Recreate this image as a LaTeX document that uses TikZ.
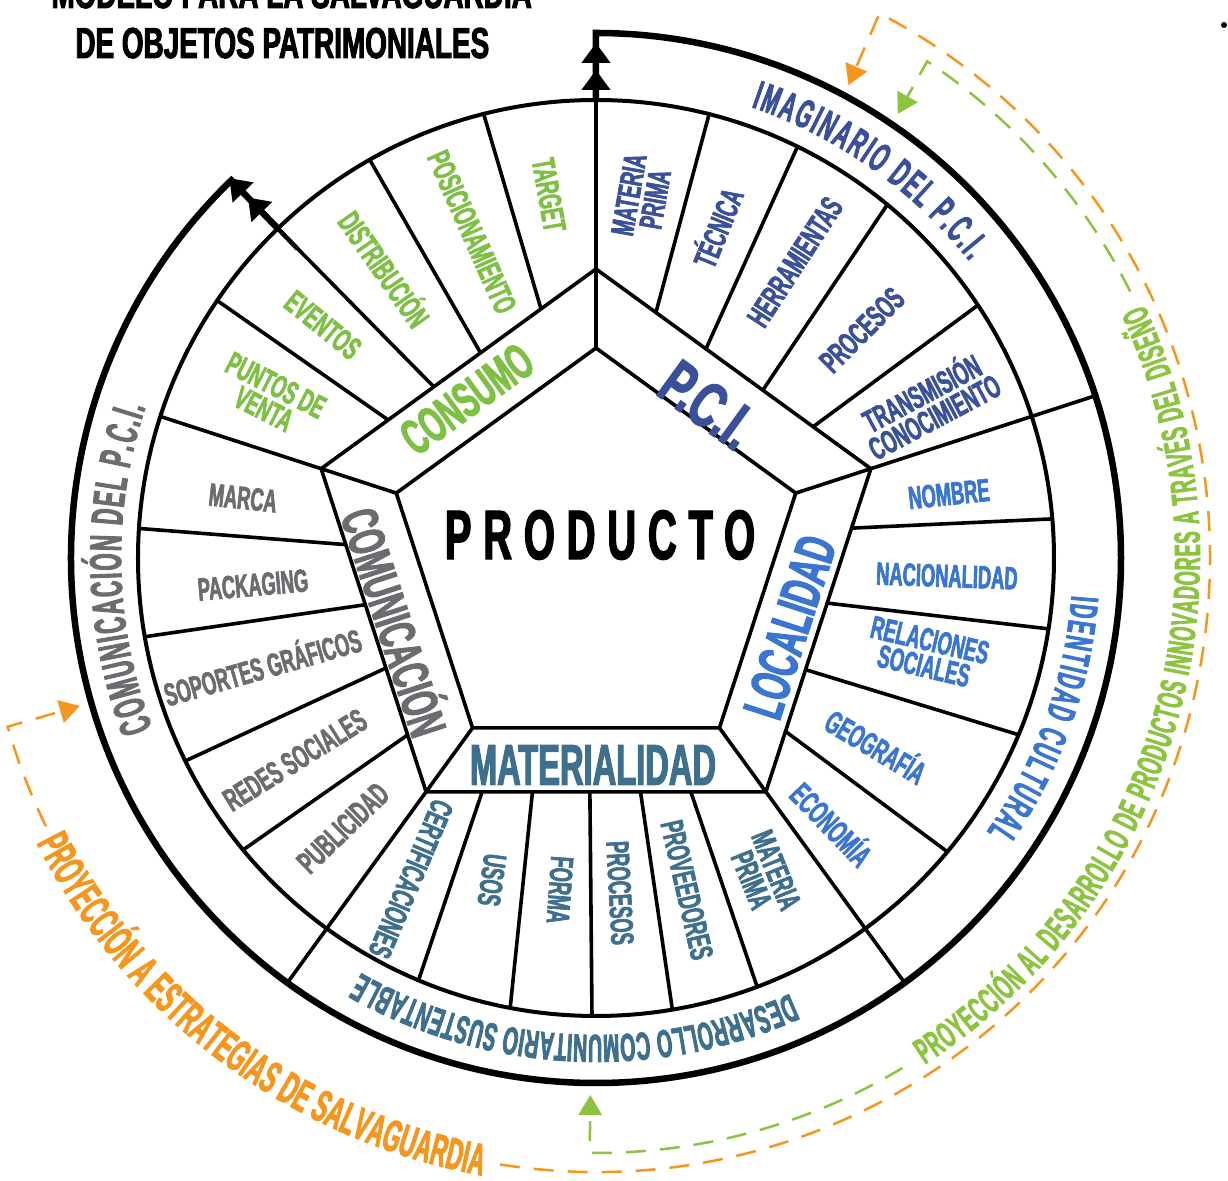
\documentclass[tikz,border=0pt]{standalone}
\usepackage{fontspec}
\newfontfamily\bebas[FakeStretch=0.57,FakeBold=2]{Liberation Sans}
\newfontfamily\bebasetroite[FakeStretch=0.5,FakeBold=2]{Liberation Sans}
\newfontfamily\bebasancha[FakeStretch=0.57,FakeBold=2,LetterSpace=17]{Liberation Sans}
\usetikzlibrary{arrows.meta, calc, decorations.text}

\definecolor{consumo}{RGB}{125,192,68}
\definecolor{pci}{RGB}{58,80,152}
\definecolor{localidad}{RGB}{58,118,208}
\definecolor{materia}{RGB}{62,112,142}
\definecolor{comunica}{RGB}{108,108,112}
\definecolor{naranja}{RGB}{245,150,30}
\definecolor{verde}{RGB}{140,196,66}

% taille donnee par la hauteur des capitales (en px)
\newcommand\capsz[1]{\fontsize{\fpeval{#1*0.795}}{\fpeval{#1*0.66}}\selectfont}

\begin{document}
\begin{tikzpicture}[x=0.2mm, y=0.2mm,
    trait/.style={line width=0.72mm},
    anneau/.style={line width=1.3mm, line join=miter},
    etiq/.style={font=\bebas\bfseries\capsz{23}, align=center, inner sep=0pt},
    bande/.style={font=\bebas\bfseries\capsz{#1}, inner sep=0pt},
    titre/.style={font=\bebas\bfseries\capsz{31}, inner sep=0pt, xscale=1.13},
    double fleche/.style={line width=0.9mm,
      -{Triangle[length=4mm,width=5.6mm,sep=1.4mm]Triangle[length=4mm,width=5.6mm]}},
    proj/.style={line width=0.5mm, dash pattern=on 4mm off 2.8mm,
      -{Triangle[length=4mm,width=4.6mm]}},
  ]
  \useasboundingbox (-596,-623) rectangle (632,558);
  \fill[white] (-596,-623) rectangle (632,558);

  % === Titre ===
  \node[titre, anchor=base west] (titre1) at (-545,550) {MODELO PARA LA SALVAGUARDIA};
  \node[titre, anchor=base west] (titre2) at (-521,500) {DE OBJETOS PATRIMONIALES};
  \fill (628,533) circle[radius=3];

  % === Pentagones ===
  \foreach \k/\a in {1/90, 2/18, 3/-54, 4/-126, 5/162} {
    \coordinate (o\k) at (\a:289);
    \coordinate (i\k) at (\a:210);
  }
  \draw[trait] (o1) -- (o2) -- (o3) -- (o4) -- (o5) -- cycle;
  \draw[trait] (i1) -- (i2) -- (i3) -- (i4) -- (i5) -- cycle;
  \draw[trait] (i2) -- (o2) -- (18:525);
  \draw[trait] (i3) -- (o3) -- (-54:525);
  \draw[trait] (i4) -- (o4) -- (-126:525);
  \draw[trait] (i5) -- (o5) -- (162:458);
  \draw[trait] (i1) -- (90:458);

  % rayons entre pentagone et cercle
  \foreach \t/\a in {0.2/104.2, 0.42/119.6, 0.59/134, 0.756/145.8}
    \draw[trait] ($(o1)!\t!(o5)$) -- (\a:458);
  \foreach \t/\a in {0.218/75.7, 0.4/63.9, 0.607/50.5, 0.79/33.5}
    \draw[trait] ($(o1)!\t!(o2)$) -- (\a:458);
  \foreach \t/\a in {0.184/4.9, 0.416/-8.9, 0.622/-22.7, 0.813/-39.9}
    \draw[trait] ($(o2)!\t!(o3)$) -- (\a:458);
  \foreach \t/\a in {0.221/-69.4, 0.369/-80.4, 0.518/-90.5, 0.687/-100.8, 0.835/-112.8}
    \draw[trait] ($(o3)!\t!(o4)$) -- (\a:458);
  \foreach \t/\a in {0.176/219.6, 0.383/206.3, 0.579/189.9, 0.765/176.3}
    \draw[trait] ($(o4)!\t!(o5)$) -- (\a:458);

  \draw[line width=0.8mm] (0,0) circle[radius=458];

  % anneau exterieur et fleches
  \draw[anneau] (134:458) -- (134:525) arc[start angle=134, end angle=450, radius=525] -- (90:458);
  \draw[double fleche] (90:430) -- (90:515);
  \draw[double fleche] (134:430) -- (134:528);

  % === Centre ===
  \node[font=\bebasancha\bfseries\capsz{50}, inner sep=0pt] (producto) at (4,23) {PRODUCTO};
  \node[bande=36, consumo, rotate=36] (consumo) at (-129,159) {CONSUMO};
  \node[bande=46, pci, rotate=-36, xscale=1.15] (pcilbl) at (112,153) {P.C.I.};
  \node[bande=40, localidad, rotate=72] (localidad) at (194,-69) {LOCALIDAD};
  \node[bande=41, materia] (materialidad) at (-3,-207) {MATERIALIDAD};
  \node[bande=37, comunica, rotate=-72] (comunicacion) at (-198,-63) {COMUNICACIÓN};

  % --- Consumo ---
  \node[etiq, consumo, rotate=-80] (target) at (-47,363) {TARGET};
  \node[etiq, consumo, rotate=-66] (posicion) at (-124,326) {POSICIONAMIENTO};
  \node[etiq, consumo, rotate=-55] (distrib) at (-210,290) {DISTRIBUCIÓN};
  \node[etiq, consumo, rotate=-39] (eventos) at (-273,233) {EVENTOS};
  \node[etiq, consumo, rotate=-27] (puntos) at (-326,161) {PUNTOS DE\\VENTA};

  % --- P.C.I. ---
  \node[etiq, pci, rotate=80] (materia1) at (46,361) {MATERIA\\PRIMA};
  \node[etiq, pci, rotate=68] (tecnica) at (120,331) {TÉCNICA};
  \node[etiq, pci, rotate=57] (herram) at (199,296) {HERRAMIENTAS};
  \node[etiq, pci, rotate=45] (procesos1) at (266,228) {PROCESOS};
  \node[etiq, pci, rotate=28] (transm) at (331,155) {TRANSMISIÓN\\CONOCIMIENTO};

  % --- Localidad ---
  \node[etiq, localidad, rotate=6] (nombre) at (353,64) {NOMBRE};
  \node[etiq, localidad, rotate=-2] (nacion) at (351,-18) {NACIONALIDAD};
  \node[etiq, localidad, rotate=-13] (relac) at (331,-95) {RELACIONES\\SOCIALES};
  \node[etiq, localidad, rotate=-31] (geogr) at (281,-187) {GEOGRAFÍA};
  \node[etiq, localidad, rotate=-46] (econ) at (237,-265) {ECONOMÍA};

  % --- Materialidad ---
  \node[etiq, materia, rotate=-68] (materia2) at (168,-317) {MATERIA\\PRIMA};
  \node[etiq, materia, rotate=-77] (provee) at (91,-332) {PROVEEDORES};
  \node[etiq, materia, rotate=-87] (procesos2) at (24,-335) {PROCESOS};
  \node[etiq, materia, rotate=-94] (forma) at (-36,-332) {FORMA};
  \node[etiq, materia, rotate=-98] (usos) at (-104,-322) {USOS};
  \node[etiq, materia, rotate=-113] (certif) at (-185,-321) {CERTIFICACIONES};

  % --- Comunicacion ---
  \node[etiq, comunica, rotate=-6] (marca) at (-353,60) {MARCA};
  \node[etiq, comunica, rotate=5] (packaging) at (-343,-27) {PACKAGING};
  \node[etiq, comunica, rotate=16] (soportes) at (-334,-107) {SOPORTES GRÁFICOS};
  \node[etiq, comunica, rotate=32] (redes) at (-301,-202) {REDES SOCIALES};
  \node[etiq, comunica, rotate=44] (publi) at (-253,-270) {PUBLICIDAD};

  % === Textes de l'anneau ===
  \path[decorate, decoration={text along path, text align=fit to path, text color=pci,
      text={|\bebasetroite\bfseries\capsz{29}|IMAGINARIO DEL P.C.I.}}]
    (71:477) arc[start angle=71, end angle=38.5, radius=477];
  \path[decorate, decoration={text along path, text align=fit to path, text color=localidad,
      text={|\bebasetroite\bfseries\capsz{28}|IDENTIDAD CULTURAL}}]
    (-4.5:477) arc[start angle=-4.5, end angle=-35, radius=477];
  \path[decorate, decoration={text along path, text align=fit to path, text color=materia,
      text={|\bebasetroite\bfseries\capsz{28}|DESARROLLO COMUNITARIO SUSTENTABLE}}]
    (-66:477) arc[start angle=-66, end angle=-119.5, radius=477];
  \path[decorate, decoration={text along path, text align=fit to path, text color=comunica,
      text={|\bebasetroite\bfseries\capsz{32}|COMUNICACIÓN DEL P.C.I.}}]
    (201:475) arc[start angle=201, end angle=161.5, radius=475];

  % === Projections ===
  \draw[proj, naranja] (206:612) arc[start angle=206, end angle=196, radius=612] -- (196:537);
  \path[decorate, decoration={text along path, text align=fit to path, text color=naranja,
      text={|\bebasetroite\bfseries\capsz{32}|PROYECCIÓN A ESTRATEGIAS DE SALVAGUARDIA}}]
    (207:628) arc[start angle=207, end angle=259.5, radius=628];
  \draw[proj, naranja] (261:614) arc[start angle=261, end angle=422.5, radius=614] -- (421.9:536);

  \draw[proj, verde] (301:595) arc[start angle=301, end angle=269.4, radius=595] -- (269.4:537);
  \path[decorate, decoration={text along path, text align=fit to path, text color=verde,
      text={|\bebasetroite\bfseries\capsz{26}|PROYECCIÓN AL DESARROLLO DE PRODUCTOS INNOVADORES A TRAVÉS DEL DISEÑO}}]
    (-57:604) arc[start angle=-57, end angle=24.7, radius=604];
  \draw[proj, verde] (26.5:597) arc[start angle=26.5, end angle=56.3, radius=597] -- (55.8:537);
\end{tikzpicture}
\end{document}
